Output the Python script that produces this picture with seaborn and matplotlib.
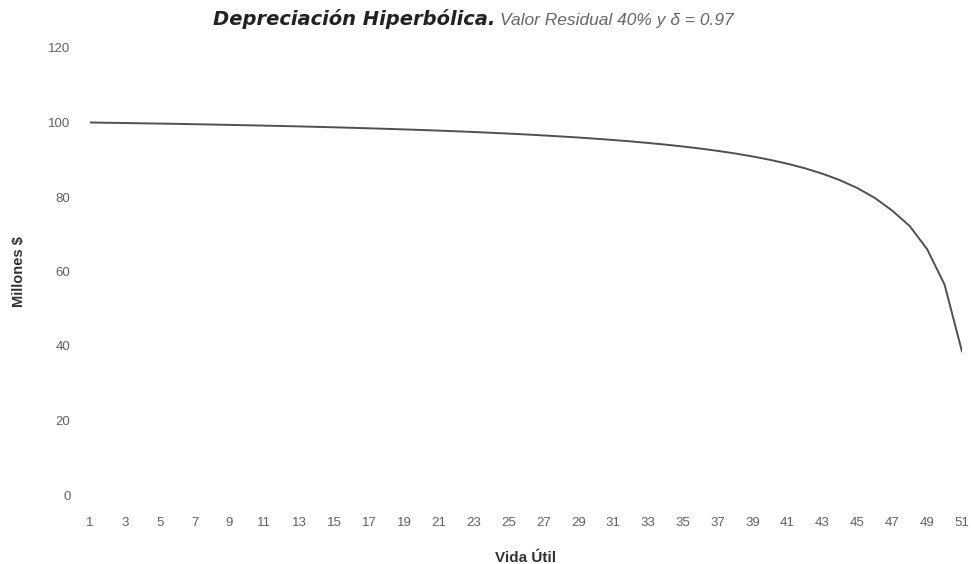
import matplotlib
matplotlib.use("Agg")
import matplotlib.pyplot as plt
import pandas as pd
import seaborn as sns

# Vida útil (años) y valor en libros (millones $)
years = list(range(1, 52))
values = [100.0, 99.93, 99.86, 99.78, 99.71, 99.63, 99.54, 99.45, 99.36, 99.26,
          99.16, 99.06, 98.95, 98.83, 98.71, 98.58, 98.44, 98.30, 98.15, 97.99,
          97.82, 97.64, 97.45, 97.24, 97.02, 96.79, 96.53, 96.26, 95.97, 95.65,
          95.30, 94.93, 94.51, 94.06, 93.56, 93.00, 92.38, 91.68, 90.88, 89.97,
          88.92, 87.70, 86.25, 84.52, 82.40, 79.75, 76.34, 72.20, 66.00, 56.50,
          38.50]
x_ticks = list(range(1, 52, 2))
y_ticks = [0, 20, 40, 60, 80, 100, 120]

df = pd.DataFrame({"Vida Útil": years, "Millones $": values})

sns.set_style("white")
plt.rcParams['font.family'] = ['Liberation Sans', 'DejaVu Sans']

fig = plt.figure(figsize=(9.71, 5.64), dpi=100)
ax = fig.add_axes([90 / 971, 69 / 564, 872 / 971, 447 / 564])

sns.lineplot(data=df, x="Vida Útil", y="Millones $", ax=ax, color="#505050", linewidth=1.4)

ax.set_xlim(1, 51)
ax.set_ylim(0, 120)
ax.set_xticks(x_ticks)
ax.set_yticks(y_ticks)
ax.tick_params(axis='x', length=0, pad=16, labelsize=9.5, labelcolor="#606060")
ax.tick_params(axis='y', length=0, pad=14, labelsize=9.5, labelcolor="#606060")
for s in ax.spines.values():
    s.set_visible(False)

ax.set_xlabel("Vida Útil", fontsize=11, fontweight='bold', color="#333333")
ax.xaxis.set_label_coords(0.5, -0.125)
ax.set_ylabel("Millones $", fontsize=10.5, fontweight='bold', color="#333333")
ax.yaxis.set_label_coords(-0.073, 0.5)

fig.text(213 / 971, 1 - 19 / 564, "Depreciación Hiperbólica.", fontsize=14,
         fontweight='bold', fontstyle='italic', color="#222222", va='center', ha='left',
         family='DejaVu Sans')
fig.text(500 / 971, 1 - 20 / 564, "Valor Residual 40% y δ = 0.97", fontsize=12.5,
         fontstyle='italic', color="#666666", va='center', ha='left')

fig.savefig("out.png", dpi=100)
